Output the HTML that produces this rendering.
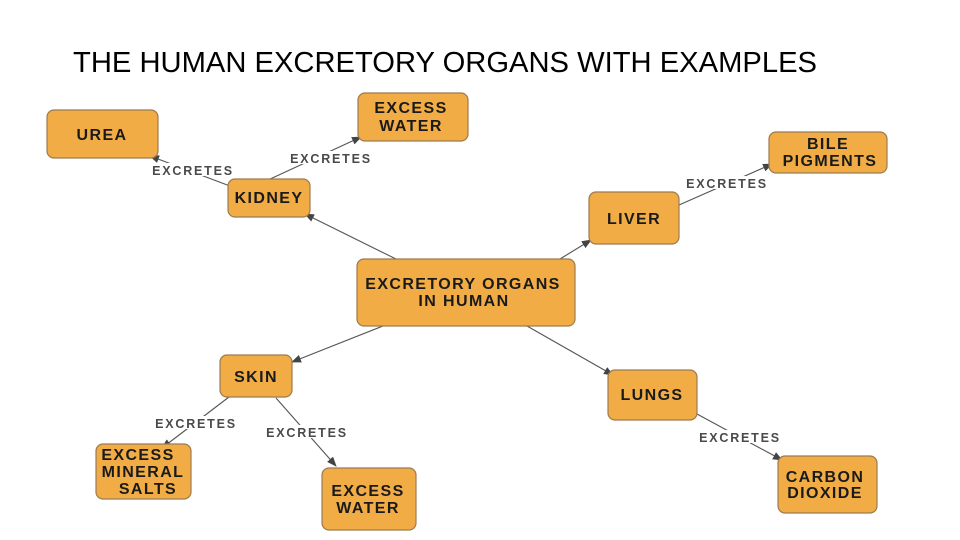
<!DOCTYPE html>
<html><head><meta charset="utf-8"><style>
html,body{margin:0;padding:0;background:#fff;}
svg{display:block;}
.n{fill:#F1AC45;stroke:#9b7b4f;stroke-width:1.2;}
.t{font-family:"Liberation Sans",sans-serif;font-weight:bold;font-size:16px;letter-spacing:1.4px;fill:#1a1a1a;text-anchor:middle;}
.l{font-family:"Liberation Sans",sans-serif;font-weight:bold;font-size:12.5px;fill:#4a4a4a;text-anchor:middle;letter-spacing:1.8px;}
.e{stroke:#555;stroke-width:1.1;fill:none;marker-end:url(#a);}
</style></head><body>
<svg width="960" height="540" viewBox="0 0 960 540" xmlns="http://www.w3.org/2000/svg">
<defs><marker id="a" markerWidth="10" markerHeight="8" refX="9" refY="4" orient="auto" markerUnits="userSpaceOnUse"><path d="M0,0 L10,4 L0,8 z" fill="#444"/></marker></defs>
<text x="73" y="72" font-family="'Liberation Sans',sans-serif" font-size="29" fill="#000" textLength="744" lengthAdjust="spacingAndGlyphs">THE HUMAN EXCRETORY ORGANS WITH EXAMPLES</text>

<line class="e" x1="396" y1="259" x2="305" y2="214"/>
<line class="e" x1="560" y1="259" x2="591" y2="240"/>
<line class="e" x1="383" y1="326" x2="292" y2="362"/>
<line class="e" x1="527" y1="326" x2="613" y2="375"/>
<line class="e" x1="230" y1="186" x2="150" y2="156"/>
<line class="e" x1="268" y1="180" x2="361" y2="137"/>
<line class="e" x1="679" y1="205" x2="772" y2="164"/>
<line class="e" x1="229" y1="397" x2="162" y2="448"/>
<line class="e" x1="276" y1="398" x2="336" y2="466"/>
<line class="e" x1="697" y1="414" x2="782" y2="460"/>

<rect x="148" y="163" width="90" height="13" fill="#fff"/><text class="l" x="193" y="175">EXCRETES</text>
<rect x="286" y="151" width="90" height="13" fill="#fff"/><text class="l" x="331" y="163">EXCRETES</text>
<rect x="682" y="176" width="90" height="13" fill="#fff"/><text class="l" x="727" y="188">EXCRETES</text>
<rect x="151" y="416" width="90" height="13" fill="#fff"/><text class="l" x="196" y="428">EXCRETES</text>
<rect x="262" y="425" width="90" height="13" fill="#fff"/><text class="l" x="307" y="437">EXCRETES</text>
<rect x="695" y="430" width="90" height="13" fill="#fff"/><text class="l" x="740" y="442">EXCRETES</text>

<rect class="n" x="47" y="110" width="111" height="48" rx="7"/><text class="t" x="102" y="140" font-size="17">UREA</text>
<rect class="n" x="358" y="93" width="110" height="48" rx="7"/><text class="t" x="411" y="113">EXCESS</text><text class="t" x="411" y="131">WATER</text>
<rect class="n" x="228" y="179" width="82" height="38" rx="7"/><text class="t" x="269" y="203">KIDNEY</text>
<rect class="n" x="357" y="259" width="218" height="67" rx="7"/><text class="t" x="463" y="289">EXCRETORY ORGANS</text><text class="t" x="464" y="306">IN HUMAN</text>
<rect class="n" x="589" y="192" width="90" height="52" rx="7"/><text class="t" x="634" y="224">LIVER</text>
<rect class="n" x="769" y="132" width="118" height="41" rx="7"/><text class="t" x="828" y="149">BILE</text><text class="t" x="830" y="166">PIGMENTS</text>
<rect class="n" x="220" y="355" width="72" height="42" rx="7"/><text class="t" x="256" y="382">SKIN</text>
<rect class="n" x="608" y="370" width="89" height="50" rx="7"/><text class="t" x="652" y="400">LUNGS</text>
<rect class="n" x="96" y="444" width="95" height="55" rx="7"/><text class="t" x="138" y="460">EXCESS</text><text class="t" x="143" y="477">MINERAL</text><text class="t" x="148" y="494">SALTS</text>
<rect class="n" x="322" y="468" width="94" height="62" rx="7"/><text class="t" x="368" y="496">EXCESS</text><text class="t" x="368" y="513">WATER</text>
<rect class="n" x="778" y="456" width="99" height="57" rx="7"/><text class="t" x="825" y="482">CARBON</text><text class="t" x="825" y="498">DIOXIDE</text>
</svg>
</body></html>
